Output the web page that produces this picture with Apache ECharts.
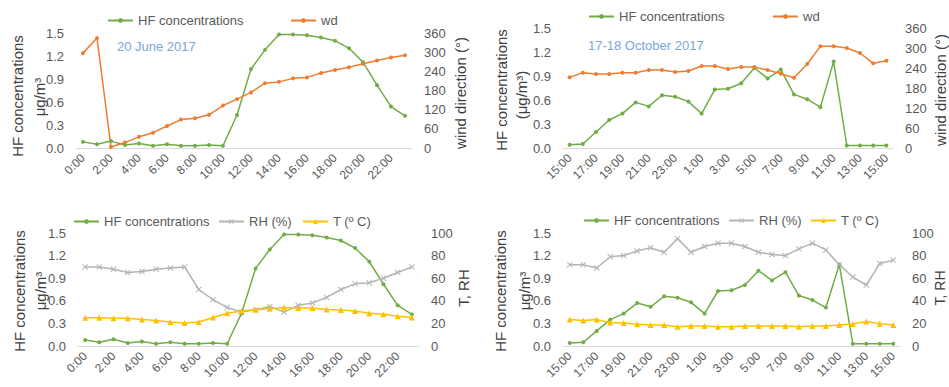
<!DOCTYPE html>
<html>
<head>
<meta charset="utf-8">
<script src="https://cdn.jsdelivr.net/npm/echarts@6/dist/echarts.min.js"></script>
<style>
html,body{margin:0;padding:0;background:#fff;}
#c{width:949px;height:387px;}
</style>
</head>
<body>
<div id="c"></div>
<script>
// ---- Data ----
const hoursJune = ['0:00','1:00','2:00','3:00','4:00','5:00','6:00','7:00','8:00','9:00','10:00','11:00',
  '12:00','13:00','14:00','15:00','16:00','17:00','18:00','19:00','20:00','21:00','22:00','23:00'];
const hoursOct = ['15:00','16:00','17:00','18:00','19:00','20:00','21:00','22:00','23:00','0:00','1:00','2:00',
  '3:00','4:00','5:00','6:00','7:00','8:00','9:00','10:00','11:00','12:00','13:00','14:00','15:00'];

const hfJune = [0.08,0.05,0.09,0.04,0.06,0.03,0.05,0.03,0.03,0.04,0.03,0.43,1.03,1.28,1.48,1.48,1.47,1.44,1.40,1.30,1.12,0.82,0.54,0.42];
const wdJune = [297,344,3,17,35,48,69,89,93,104,133,153,174,203,207,218,221,235,244,253,264,274,283,290];
const rhJune = [70,70,68,65,66,68,69,70,50,41,34,30,32,35,30,36,38,43,50,55,56,60,65,70];
const tJune  = [25,25,24.5,24.5,23.4,22.5,21.3,20.4,21.3,25.2,29,31,32,33,34,33.6,33.6,32.4,31.8,31,29,28,26.4,25.2];

const hfOct = [0.04,0.05,0.20,0.35,0.43,0.57,0.52,0.66,0.64,0.58,0.43,0.73,0.74,0.81,1.00,0.87,0.98,0.67,0.61,0.51,1.08,0.03,0.03,0.03,0.03];
const wdOct = [212,226,222,222,226,226,234,234,228,231,246,246,237,243,243,234,223,211,252,305,305,300,285,254,262];
const rhOct = [72,72,69,79,80,84,87,83,95,83,88,91,91,88,83,81,80,86,91,85,72,61,54,73,76];
const tOct  = [23.4,22.5,23.4,20.7,20.4,19.2,18.6,18.6,17.1,17.7,17.7,17.1,17.1,17.7,17.7,17.7,17.7,17.1,17.7,17.7,18.6,19.5,21.6,19.8,18.6];

const hfTicks = {min:0, max:1.5, interval:0.3};
const wdTicks = {min:0, max:360, interval:60};
const trTicks = {min:0, max:100, interval:20};

// ---- Style ----
const GREEN = '#70ad47', ORANGE = '#ed7d31', GRAY = '#b4b4b4', YELLOW = '#ffc000';
const FONT = '"Liberation Sans", Arial, sans-serif';
const TXT = '#595959';
const X_SYMBOL = 'path://M0,1.2 L1.2,0 L5,3.8 L8.8,0 L10,1.2 L6.2,5 L10,8.8 L8.8,10 L5,6.2 L1.2,10 L0,8.8 L3.8,5 Z';

const grids = [
  {left:76, top:33, width:336, height:115},
  {left:563, top:28, width:330, height:120},
  {left:78, top:233, width:341, height:113},
  {left:563, top:233, width:337, height:113}
];

function xAxis(gi, cats){
  return {type:'category', gridIndex:gi, data:cats, boundaryGap:true,
    axisLine:{lineStyle:{color:'#d9d9d9', width:1}}, axisTick:{show:false},
    axisLabel:{interval:1, rotate:45, color:TXT, fontSize:12, fontFamily:FONT, margin:8}};
}
function yAxis(gi, t, pos, fmt){
  return {type:'value', gridIndex:gi, position:pos, min:t.min, max:t.max, interval:t.interval,
    axisLine:{show:false}, axisTick:{show:false}, splitLine:{show:false},
    axisLabel:{color:TXT, fontSize:13, fontFamily:FONT, margin:12, formatter:fmt}};
}
const f1 = v => v.toFixed(1);
const f0 = v => String(v);

function lineSeries(name, data, xi, yi, color, symbol, size){
  return {type:'line', name:name, data:data, xAxisIndex:xi, yAxisIndex:yi,
    symbol:symbol, symbolSize:size, showSymbol:true,
    lineStyle:{color:color, width:1.5}, itemStyle:{color:color},
    emphasis:{disabled:true}, animation:false};
}

function leg(name, left, top){
  return {data:[name], left:left, top:top, itemWidth:25, itemHeight:6, itemGap:0,
    textStyle:{color:TXT, fontSize:13, fontFamily:FONT, padding:[0,0,0,0]}, padding:0, selectedMode:false};
}

function vtext(str, x, y, size, color){
  return {type:'text', x:x, y:y, rotation:Math.PI/2,
    style:{text:str, fill:color||'#404040', font:size+'px '+FONT, textAlign:'center', textVerticalAlign:'middle'}};
}

const option = {
  backgroundColor:'#fff',
  animation:false,
  grid: grids,
  xAxis:[xAxis(0,hoursJune), xAxis(1,hoursOct), xAxis(2,hoursJune), xAxis(3,hoursOct)],
  yAxis:[
    yAxis(0,hfTicks,'left',f1), yAxis(0,wdTicks,'right',f0),
    yAxis(1,hfTicks,'left',f1), yAxis(1,wdTicks,'right',f0),
    yAxis(2,hfTicks,'left',f1), yAxis(2,trTicks,'right',f0),
    yAxis(3,hfTicks,'left',f1), yAxis(3,trTicks,'right',f0)
  ],
  legend:[
    leg('HF concentrations',107,14), leg('wd',290,14),
    leg('HF concentrations',588,10), leg('wd',772,10),
    leg('HF concentrations',73,215), leg('RH (%)',218,215), leg('T (º C)',302,215),
    leg('HF concentrations',583,214), leg('RH (%)',728,214), leg('T (º C)',810,214)
  ],
  series:[
    lineSeries('HF concentrations', hfJune, 0, 0, GREEN, 'circle', 4),
    lineSeries('wd', wdJune, 0, 1, ORANGE, 'circle', 4),
    lineSeries('HF concentrations', hfOct, 1, 2, GREEN, 'circle', 4),
    lineSeries('wd', wdOct, 1, 3, ORANGE, 'circle', 4),
    lineSeries('HF concentrations', hfJune, 2, 4, GREEN, 'circle', 4),
    lineSeries('RH (%)', rhJune, 2, 5, GRAY, X_SYMBOL, 6),
    lineSeries('T (º C)', tJune, 2, 5, YELLOW, 'triangle', 6),
    lineSeries('HF concentrations', hfOct, 3, 6, GREEN, 'circle', 4),
    lineSeries('RH (%)', rhOct, 3, 7, GRAY, X_SYMBOL, 6),
    lineSeries('T (º C)', tOct, 3, 7, YELLOW, 'triangle', 6)
  ],
  graphic:[
    {type:'text', left:117, top:40, style:{text:'20 June 2017', fill:'#7aa6d8', font:'13px '+FONT}},
    {type:'text', left:588, top:39, style:{text:'17-18 October 2017', fill:'#7aa6d8', font:'13px '+FONT}},
    // top-left
    vtext('HF concentrations', 17, 96, 15),
    vtext('μg/m³', 39, 97, 15),
    vtext('wind direction (°)', 460, 93, 15),
    // top-right
    vtext('HF concentrations', 501, 90, 15),
    vtext('(μg/m³)', 521, 95, 15),
    vtext('wind direction (°)', 940, 90, 15),
    // bottom-left
    vtext('HF concentrations', 19, 291, 15),
    vtext('μg/m³', 40, 291, 15),
    vtext('T, RH', 463, 288, 15),
    // bottom-right
    vtext('HF concentrations', 500, 291, 15),
    vtext('μg/m³', 524, 291, 15),
    vtext('T, RH', 940, 288, 14)
  ]
};

const chart = echarts.init(document.getElementById('c'), null, {renderer:'svg'});
chart.setOption(option);
</script>
</body>
</html>
